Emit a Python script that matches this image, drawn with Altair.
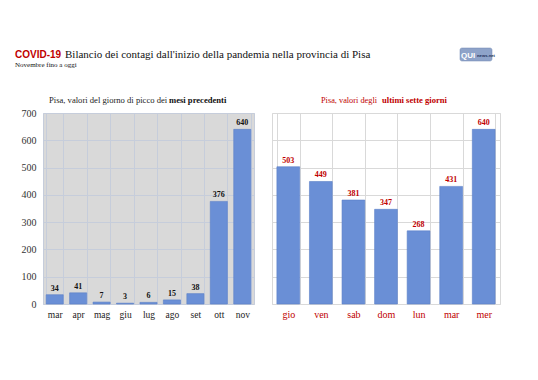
import altair as alt
import pandas as pd

# ---- data ----
months = ["mar", "apr", "mag", "giu", "lug", "ago", "set", "ott", "nov"]
month_peaks = [34, 41, 7, 3, 6, 15, 38, 376, 640]
days = ["gio", "ven", "sab", "dom", "lun", "mar", "mer"]
day_values = [503, 449, 381, 347, 268, 431, 640]
y_ticks = [0, 100, 200, 300, 400, 500, 600, 700]

title_red = "COVID-19"
title_main = "Bilancio dei contagi dall'inizio della pandemia nella provincia di Pisa"
subtitle = "Novembre fino a oggi"
left_title_a = "Pisa, valori del giorno di picco dei "
left_title_b = "mesi precedenti"
right_title_a = "Pisa, valori degli "
right_title_b = "ultimi sette giorni"

SERIF = "Liberation Serif"
SANS = "Liberation Sans"
BAR = "#6a8fd6"
BAR_STROKE = "#5b7fc8"
RED = "#c00000"

left_df = pd.DataFrame({"mese": months, "casi": month_peaks})
right_df = pd.DataFrame({"giorno": days, "casi": day_values})
one = pd.DataFrame({"k": [0]})

yscale = alt.Scale(domain=[0, 700], nice=False)


def txt(text, x, y, size, color="#111", weight="normal", font=SERIF, align="left"):
    return alt.Chart(one).mark_text(
        text=text, font=font, fontSize=size, fontWeight=weight, color=color,
        align=align, baseline="alphabetic"
    ).encode(x=alt.value(x), y=alt.value(y))


# ---- left panel ----
lx = alt.X("mese:N", sort=months,
           scale=alt.Scale(paddingInner=0.27, paddingOuter=0.135),
           axis=alt.Axis(title=None, labelAngle=0, domain=False, ticks=False,
                         grid=True, tickBand="extent", gridColor="#c6cddb",
                         labelFont=SERIF, labelFontSize=9.5, labelColor="#222",
                         labelPadding=5, labelOverlap=False))
ly = alt.Y("casi:Q", scale=yscale,
           axis=alt.Axis(title=None, values=y_ticks, domain=False, ticks=False,
                         grid=True, gridColor="#c6cddb", labelFont=SERIF,
                         labelFontSize=10, labelColor="#333", labelPadding=7,
                         labelOverlap=False, minExtent=34, maxExtent=34))
lbase = alt.Chart(left_df).encode(x=lx, y=ly)
lbars = lbase.mark_bar(color=BAR, stroke=BAR_STROKE, strokeWidth=0.6)
llabels = lbase.mark_text(font=SERIF, fontSize=8, fontWeight="bold", color="#111",
                          dy=-4, baseline="alphabetic").encode(text="casi:Q")

anchor = alt.Chart(one).mark_rule(strokeOpacity=0).encode(
    x=alt.value(-34), y=alt.value(-104), y2=alt.value(-103))

left = alt.layer(
    lbars, llabels,
    txt(title_red, -28, -55, 10, RED, "bold", SANS),
    txt(title_main, 22, -55, 11, "#111"),
    txt(subtitle, -28, -46, 7, "#111"),
    txt(left_title_a, 6, -10, 8.6, "#222"),
    txt(left_title_b, 126, -10, 8.6, "#111", "bold"),
    anchor,
).properties(width=211, height=191,
             view=alt.ViewBackground(fill="#d9d9d9", stroke="#c6cddb"))

# ---- right panel ----
rx = alt.X("giorno:N", sort=days,
           scale=alt.Scale(paddingInner=0.3, paddingOuter=0.15),
           axis=alt.Axis(title=None, labelAngle=0, domain=False, ticks=False,
                         grid=True, tickBand="extent", gridColor="#d9d9d9",
                         labelFont=SERIF, labelFontSize=10, labelColor=RED,
                         labelPadding=5, labelOverlap=False))
ry = alt.Y("casi:Q", scale=yscale,
           axis=alt.Axis(title=None, values=y_ticks, domain=False, ticks=False,
                         labels=False, grid=True, gridColor="#d9d9d9",
                         minExtent=0, maxExtent=0))
rbase = alt.Chart(right_df).encode(x=rx, y=ry)
rbars = rbase.mark_bar(color=BAR, stroke=BAR_STROKE, strokeWidth=0.6)
rlabels = rbase.mark_text(font=SERIF, fontSize=8, fontWeight="bold", color=RED,
                          dy=-4, baseline="alphabetic").encode(text="casi:Q")

logo_box = alt.Chart(one).mark_rect(color="#8ea3c9", cornerRadius=2,
                                    stroke="#6f86b0", strokeWidth=0.5).encode(
    x=alt.value(188), x2=alt.value(220), y=alt.value(-65), y2=alt.value(-52))

right = alt.layer(
    rbars, rlabels,
    txt(right_title_a, 49, -10, 8.3, RED),
    txt(right_title_b, 110, -10, 8.6, RED, "bold"),
    logo_box,
    txt("QUI", 189, -55, 8, "white", "bold", SANS),
    txt("news.net", 205, -56, 4.2, "#1f2f5a", "bold", SANS),
).properties(width=228, height=191,
             view=alt.ViewBackground(fill="white", stroke="#d9d9d9"))

chart = alt.hconcat(left, right, spacing=18, bounds="flush").properties(
    padding=0, background="white"
).configure_view(strokeWidth=1)

chart.save("out.html", embed_options={"renderer": "svg", "actions": False})
